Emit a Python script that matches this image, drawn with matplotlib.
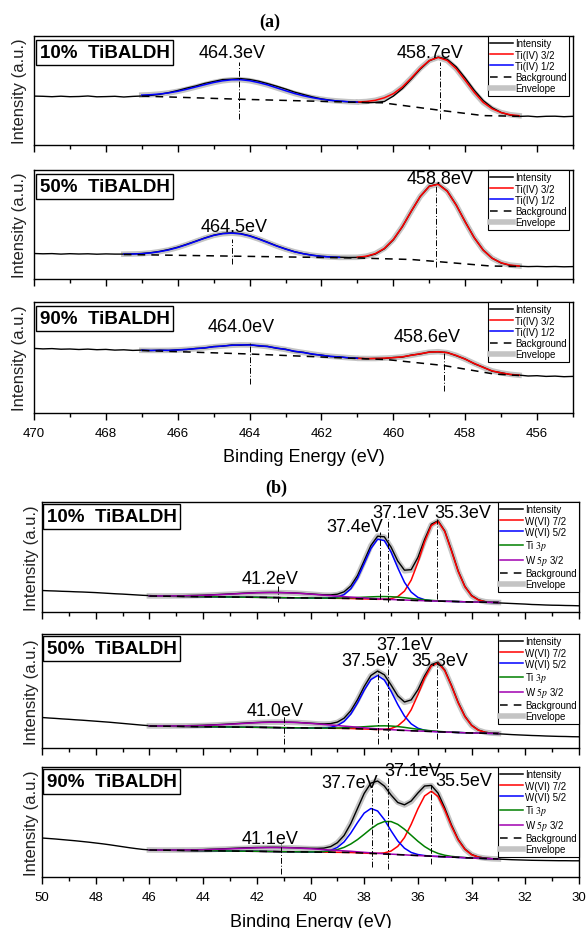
import numpy as np
import matplotlib
matplotlib.use("Agg")
import matplotlib.pyplot as plt
from matplotlib.lines import Line2D
from matplotlib.ticker import MultipleLocator

plt.rcParams["font.family"] = ["Liberation Sans", "DejaVu Sans"]
plt.rcParams["mathtext.fontset"] = "stix"

# ---------------- (a) Ti 2p ----------------
energy_a = np.linspace(470, 455, 61)
half_x_ti10 = np.linspace(467, 461, 25)
half_x_ti50 = np.linspace(467.5, 461.5, 25)
half_x_ti90 = np.linspace(467, 461, 25)
main_x_a = np.linspace(461, 456.5, 19)

int_ti10 = [48.9, 48.7, 48.3, 48.8, 48.3, 48.5, 49.0, 48.2, 48.4, 48.7, 48.0, 48.6, 49.0,
            49.6, 50.7, 52.4, 54.5, 56.9, 59.0, 61.6, 63.5, 65.4, 65.8, 66.4, 65.5, 63.8, 61.4,
            58.8, 56.0, 52.9, 50.5, 48.1, 46.1, 44.8, 43.8, 43.2, 42.8,
            42.4, 42.6, 43.5, 48.9, 56.4, 66.0, 75.9, 84.2, 87.9, 85.7, 78.1, 66.9, 54.8, 44.5,
            37.3, 32.5, 29.8, 28.6, 28.9, 28.2, 28.7, 28.8, 28.3, 28.7]
half_ti10 = [49.9, 50.3, 51.0, 52.1, 53.7, 55.7, 58.0, 60.3, 62.5, 64.2, 65.2, 65.3, 64.3,
             62.4, 60.1, 57.2, 54.3, 51.5, 49.2, 47.3, 45.8, 44.6, 43.9, 43.3, 42.9]
main_ti10 = [43.0, 43.5, 44.7, 47.2, 51.3, 58.0, 67.0, 76.7, 84.5, 87.6, 84.5, 76.2, 64.6,
             52.7, 42.6, 36.2, 32.4, 30.3, 29.3]
bg_x_ti10 = [467.0, 464.3, 461.0, 460.3, 458.7, 457.5, 456.5]
bg_ti10 = [48.9, 45.8, 42.7, 42.2, 34.7, 29.4, 28.7]
peaks_ti10 = [464.3, 458.7]

int_ti50 = [25.5, 25.2, 25.4, 24.9, 25.3, 25.0, 25.2, 24.8, 25.1, 24.9, 24.9, 25.1, 25.5,
            26.3, 27.6, 29.5, 31.8, 34.7, 37.8, 41.0, 43.8, 45.6, 46.2, 45.4, 43.3, 40.2, 36.8,
            33.2, 30.1, 27.3, 25.3, 23.8, 22.7, 22.1, 21.8, 21.5, 21.6,
            22.5, 25.0, 30.2, 39.2, 52.2, 67.8, 82.5, 92.8, 95.0, 88.0, 74.0, 57.2, 41.4, 29.0,
            20.8, 16.0, 13.6, 12.8, 12.4, 12.6, 12.3, 12.5, 12.2, 12.4]
half_ti50 = [24.8, 25.0, 25.3, 26.1, 27.4, 29.1, 31.5, 34.4, 37.6, 40.8, 43.6, 45.3, 45.9,
             45.1, 43.0, 40.0, 36.5, 33.0, 29.9, 27.2, 25.2, 23.7, 22.6, 22.0, 21.6]
main_ti50 = [21.7, 22.8, 25.4, 30.6, 39.5, 52.4, 67.9, 82.6, 92.7, 94.7, 87.7, 73.9, 57.0,
             41.3, 28.9, 20.7, 16.2, 13.9, 13.0]
bg_x_ti50 = [467.5, 461.0, 460.0, 459.5, 458.8, 457.3, 456.5]
bg_ti50 = [24.5, 21.0, 20.0, 19.5, 17.5, 13.0, 12.5]
peaks_ti50 = [464.5, 458.8]

int_ti90 = [64.6, 64.1, 64.4, 63.8, 64.0, 63.5, 63.9, 63.3, 63.6, 62.9, 63.2, 62.6, 62.9,
            62.4, 62.9, 62.5, 63.3, 63.5, 64.6, 65.0, 66.5, 66.8, 68.0, 67.8, 68.4, 67.0, 66.7,
            64.7, 63.8, 61.5, 60.7, 58.7, 57.9, 56.4, 56.2, 55.0, 54.9,
            54.2, 54.6, 54.5, 55.5, 55.9, 57.9, 59.0, 61.0, 61.1, 60.5, 57.3, 54.0, 49.3, 45.8,
            41.8, 40.3, 38.4, 37.9, 37.0, 37.3, 36.6, 36.9, 36.3, 36.6]
half_ti90 = [62.7, 62.6, 62.6, 62.7, 63.0, 63.6, 64.3, 65.2, 66.2, 67.0, 67.7, 68.1, 68.0,
             67.4, 66.4, 65.0, 63.5, 61.8, 60.4, 59.0, 57.7, 56.7, 56.0, 55.3, 54.7]
main_ti90 = [54.6, 54.5, 54.5, 54.9, 55.3, 56.2, 57.7, 59.3, 60.8, 61.3, 60.3, 57.6, 53.8,
             49.6, 45.6, 42.1, 40.1, 38.7, 37.8]
bg_x_ti90 = [467.0, 464.0, 461.0, 460.2, 458.6, 457.2, 456.5]
bg_ti90 = [62.5, 59.0, 54.5, 53.5, 47.5, 39.0, 37.5]
peaks_ti90 = [464.0, 458.6]

# ---------------- (b) W 4f ----------------
energy_b = np.linspace(50, 30, 81)
fit_b = np.linspace(46, 33, 53)

int_w10 = [21.5, 21.2, 21.0, 20.7, 20.5, 20.2, 20.0, 19.7, 19.4, 19.0, 18.6, 18.2, 17.9,
           17.5, 17.1, 16.7, 16.4,
           16.2, 16.1, 16.2, 16.2, 16.3, 16.5, 16.6, 16.8, 17.1, 17.4, 17.7, 18.1, 18.4, 18.8,
           19.1, 19.4, 19.5, 19.6, 19.6, 19.4, 19.2, 18.9, 18.5, 18.1, 17.6, 17.2, 17.1, 17.8,
           20.2, 26.0, 36.4, 51.3, 66.5, 75.8, 75.2, 64.8, 50.9, 41.8, 42.3, 54.5, 72.6, 87.8,
           91.2, 81.0, 61.7, 41.0, 25.6, 16.5, 12.3, 10.4, 9.6, 9.1,
           8.8, 8.5, 8.2, 7.9, 7.5, 7.3, 7.0, 6.8, 6.7, 6.5, 6.4, 6.2]
bg_w10 = [16.0, 15.9, 15.8, 15.75, 15.7, 15.6, 15.5, 15.4, 15.3, 15.25, 15.2, 15.1, 15.0,
          14.9, 14.8, 14.75, 14.7, 14.6, 14.5, 14.4, 14.3, 14.25, 14.2, 14.1, 14.0, 13.9, 13.8,
          13.75, 13.7, 13.6, 13.5, 13.3, 13.1, 12.9, 12.7, 12.5, 12.3, 12.1, 11.9, 11.7, 11.5,
          11.3, 11.1, 10.9, 10.7, 10.6, 10.4, 10.2, 10.0, 9.9, 9.75, 9.6, 9.5]
red_w10 = [0.25, 1.0, 3.3, 9.0, 20.2, 38.0, 58.8, 75.3, 79.7, 69.8, 50.5, 30.2, 15.0, 6.1,
           2.1, 0.6, 0.14]
blue_w10 = [0.3, 1.3, 3.8, 9.7, 20.3, 35.3, 50.6, 60.1, 58.9, 47.8, 32.1, 17.8, 8.2, 3.1,
            1.0, 0.25]
green_w10 = [0.01, 0.02, 0.05, 0.12, 0.25, 0.45, 0.77, 1.2, 1.71, 2.24, 2.69, 2.95, 2.98,
             2.76, 2.34, 1.82, 1.30, 0.85, 0.51, 0.28, 0.14, 0.07, 0.03, 0.01]
purple_w10 = [0.09, 0.14, 0.2, 0.29, 0.41, 0.56, 0.76, 1.0, 1.29, 1.62, 2.0, 2.42, 2.86, 3.3,
              3.73, 4.13, 4.48, 4.74, 4.92, 5.0, 4.97, 4.83, 4.59, 4.28, 3.9, 3.47, 3.03, 2.59,
              2.16, 1.77, 1.42, 1.11, 0.85, 0.64, 0.47, 0.34, 0.24, 0.16, 0.11]
start_w10 = [37.25, 39.25, 40.0, 46.0]   # red, blue, green, purple
peaks_w10 = [41.2, 37.4, 37.1, 35.3]

int_w50 = [30.5, 30.0, 29.6, 29.1, 28.7, 28.2, 27.8, 27.3, 26.8, 26.3, 25.8, 25.2, 24.6,
           24.0, 23.4, 22.8, 22.3,
           22.1, 22.0, 22.1, 22.1, 22.2, 22.4, 22.5, 22.7, 23.0, 23.3, 23.6, 24.0, 24.4, 24.8,
           25.2, 25.5, 25.8, 26.0, 26.0, 25.9, 25.8, 25.6, 25.2, 24.8, 24.4, 24.1, 24.4, 25.9,
           29.8, 37.2, 48.3, 61.5, 72.5, 77.0, 73.2, 63.0, 52.1, 46.0, 48.1, 58.2, 72.1, 83.4,
           85.9, 78.0, 62.6, 45.6, 31.8, 22.8, 18.0, 15.8, 14.8, 14.2,
           13.8, 13.4, 13.1, 12.8, 12.5, 12.3, 12.0, 11.8, 11.6, 11.5, 11.3, 11.2]
bg_w50 = [22.0, 21.9, 21.8, 21.75, 21.7, 21.6, 21.5, 21.4, 21.3, 21.25, 21.2, 21.1, 21.0,
          20.9, 20.8, 20.75, 20.7, 20.6, 20.5, 20.4, 20.3, 20.25, 20.2, 20.1, 20.0, 19.9, 19.8,
          19.75, 19.7, 19.6, 19.5, 19.25, 19.0, 18.75, 18.5, 18.25, 18.0, 17.75, 17.5, 17.25,
          17.0, 16.75, 16.5, 16.25, 16.0, 15.75, 15.5, 15.25, 15.0, 14.9, 14.75, 14.6, 14.5]
red_w50 = [0.46, 1.5, 4.3, 10.4, 21.0, 36.2, 52.9, 65.5, 68.8, 61.3, 46.3, 29.7, 16.1, 7.5,
           2.9, 0.96, 0.27]
blue_w50 = [0.28, 0.95, 2.8, 6.9, 14.4, 25.7, 38.8, 49.7, 54.0, 49.7, 38.8, 25.7, 14.4, 6.9,
            2.8, 0.95, 0.28]
green_w50 = [0.01, 0.03, 0.07, 0.16, 0.33, 0.6, 1.03, 1.6, 2.28, 2.98, 3.58, 3.94, 3.97,
             3.68, 3.12, 2.42, 1.73, 1.13, 0.68, 0.37, 0.19, 0.09, 0.04, 0.01]
purple_w50 = [0.07, 0.11, 0.17, 0.24, 0.34, 0.48, 0.66, 0.89, 1.16, 1.49, 1.87, 2.29, 2.75,
              3.24, 3.73, 4.2, 4.63, 4.99, 5.27, 5.44, 5.5, 5.44, 5.27, 4.99, 4.63, 4.2, 3.73,
              3.24, 2.75, 2.29, 1.87, 1.49, 1.16, 0.89, 0.66, 0.48, 0.34, 0.24, 0.17]
start_w50 = [37.25, 39.5, 40.0, 46.0]
peaks_w50 = [41.0, 37.5, 37.1, 35.3]

int_w90 = [39.0, 38.5, 38.0, 37.4, 36.8, 36.2, 35.5, 34.8, 34.0, 33.2, 32.3, 31.3, 30.3,
           29.3, 28.4, 27.6, 27.1,
           27.0, 26.9, 27.0, 27.0, 27.1, 27.2, 27.3, 27.4, 27.7, 27.9, 28.2, 28.5, 28.8, 29.1,
           29.3, 29.5, 29.6, 29.7, 29.7, 29.6, 29.4, 29.2, 28.9, 28.7, 28.6, 28.9, 30.4, 34.3,
           41.5, 53.4, 68.5, 83.6, 93.9, 96.0, 91.0, 82.0, 74.5, 72.2, 76.0, 84.0, 91.0, 91.6,
           83.9, 69.0, 52.0, 37.6, 28.0, 22.5, 20.0, 18.9, 18.3, 17.9,
           17.6, 17.3, 17.1, 16.9, 16.7, 16.6, 16.5, 16.4, 16.3, 16.3, 16.2, 16.2]
bg_w90 = [27.0, 26.9, 26.8, 26.75, 26.7, 26.6, 26.5, 26.4, 26.3, 26.25, 26.2, 26.1, 26.0,
          25.9, 25.8, 25.75, 25.7, 25.6, 25.5, 25.4, 25.3, 25.25, 25.2, 25.1, 25.0, 24.9, 24.8,
          24.75, 24.7, 24.6, 24.5, 24.2, 23.9, 23.6, 23.3, 22.95, 22.65, 22.35, 22.05, 21.75,
          21.45, 21.15, 20.8, 20.5, 20.2, 19.9, 19.6, 19.3, 19.0, 18.75, 18.5, 18.25, 18.0]
red_w90 = [0.33, 1.14, 3.3, 8.3, 17.4, 30.9, 46.7, 59.9, 65.0, 59.9, 46.7, 30.9, 17.4, 8.3,
           3.3, 1.14, 0.33]
blue_w90 = [0.18, 0.63, 1.9, 4.9, 10.5, 19.4, 30.2, 40.0, 44.9, 42.7, 34.5, 23.6, 13.7, 6.75,
            2.8, 1.0, 0.3]
green_w90 = [0.1, 0.25, 0.6, 1.35, 2.7, 5.0, 8.5, 13.2, 18.8, 24.6, 29.5, 32.5, 32.8, 30.3,
             25.7, 20.0, 14.3, 9.3, 5.6, 3.1, 1.55, 0.73, 0.31, 0.12]
purple_w90 = [0.06, 0.09, 0.14, 0.2, 0.29, 0.4, 0.54, 0.72, 0.93, 1.19, 1.48, 1.8, 2.14,
              2.5, 2.85, 3.18, 3.48, 3.72, 3.89, 3.98, 3.99, 3.92, 3.76, 3.53, 3.24, 2.92,
              2.57, 2.21, 1.86, 1.54, 1.24, 0.98, 0.76, 0.57, 0.42, 0.31, 0.22, 0.15, 0.1]
start_w90 = [37.5, 39.75, 40.0, 46.0]
peaks_w90 = [41.1, 37.7, 37.1, 35.5]

ENV = "#c4c4c4"
BG_DASH = (0, (5, 4))
W, H = 586, 929

fig = plt.figure(figsize=(W / 100, H / 100), dpi=100)


def px_axes(left, top, right, bottom):
    return fig.add_axes([left / W, 1 - bottom / H, (right - left) / W, (bottom - top) / H])


def style(ax, xlim, height, sample, labels_on, box_pos):
    ax.set_xlim(*xlim)
    ax.set_ylim(0, height)
    ax.set_yticks([])
    ax.xaxis.set_major_locator(MultipleLocator(2))
    ax.xaxis.set_minor_locator(MultipleLocator(1))
    ax.tick_params(axis="x", which="major", direction="out", length=5, width=1,
                   labelsize=9.5, pad=5, labelbottom=labels_on)
    ax.tick_params(axis="x", which="minor", direction="out", length=3, width=1)
    for s in ax.spines.values():
        s.set_linewidth(1)
    ax.text(box_pos[0], box_pos[1], sample, transform=ax.transAxes, fontsize=13.5,
            fontweight="bold", ha="left", va="top",
            bbox=dict(boxstyle="square,pad=0.2", fc="white", ec="k", lw=1))


def mark_peaks(ax, peaks, spans, label_pos):
    for p, (lo, hi), (tx, ty) in zip(peaks, spans, label_pos):
        ax.plot([p, p], [lo, hi], color="k", lw=0.7, ls=(0, (6, 2, 1, 2)))
        ax.text(tx, ty, f"{p:.1f}eV", fontsize=13, ha="center", va="center")


def add_legend(ax, labels, colors, anchor):
    handles = [Line2D([], [], color="k", lw=1.1)]
    handles += [Line2D([], [], color=c, lw=1.1) for c in colors]
    handles += [Line2D([], [], color="k", lw=1.1, ls=BG_DASH),
                Line2D([], [], color=ENV, lw=4)]
    leg = ax.legend(handles, ["Intensity"] + labels + ["Background", "Envelope"],
                    loc="upper right", bbox_to_anchor=anchor, borderaxespad=0,
                    fontsize=7, frameon=True, fancybox=False, edgecolor="k",
                    framealpha=1, borderpad=0.25, labelspacing=0.12,
                    handlelength=2.4, handletextpad=0.15)
    leg.get_frame().set_linewidth(0.8)


# ---- part (a) ----
ti_panels = [
    ((37, 146), "10%  TiBALDH", int_ti10, half_x_ti10, half_ti10, main_ti10,
     bg_x_ti10, bg_ti10, peaks_ti10, [(26, 83), (26, 83)], [(464.49, 93), (458.98, 93)]),
    ((171, 280), "50%  TiBALDH", int_ti50, half_x_ti50, half_ti50, main_ti50,
     bg_x_ti50, bg_ti50, peaks_ti50, [(15, 40), (12, 94)], [(464.42, 53), (458.7, 100)]),
    ((303, 414), "90%  TiBALDH", int_ti90, half_x_ti90, half_ti90, main_ti90,
     bg_x_ti90, bg_ti90, peaks_ti90, [(29, 70), (22, 62)], [(464.24, 87), (459.06, 76)]),
]
for i, (tb, sample, inten, hx, hy, my, bx, by, peaks, spans, lpos) in enumerate(ti_panels):
    ax = px_axes(34, tb[0], 573, tb[1])
    height = tb[1] - tb[0]
    ax.plot(np.concatenate([hx, main_x_a]), np.concatenate([hy, my]), color=ENV, lw=4)
    ax.plot(energy_a, inten, color="k", lw=1)
    ax.plot(main_x_a, my, color="#ff0000", lw=1.1)
    ax.plot(hx, hy, color="#0000ff", lw=1.1)
    ax.plot(bx, by, color="k", lw=1.1, ls=BG_DASH)
    mark_peaks(ax, peaks, spans, lpos)
    style(ax, (470, 455), height, sample, i == 2,
          (0.0104, 1 - 8.0 / height))
    ax.set_ylabel("Intensity (a.u.)", fontsize=12, labelpad=5, color="#222222")
    add_legend(ax, ["Ti(IV) 3/2", "Ti(IV) 1/2"], ["#ff0000", "#0000ff"],
               (1 - 4 / 539, 1.0))
    if i == 2:
        ax.set_xlabel("Binding Energy (eV)", fontsize=13, labelpad=6.5)


# ---- part (b) ----
def place(start, net):
    i0 = int(round((fit_b[0] - start) / 0.25))
    full = np.zeros_like(fit_b)
    full[i0:i0 + len(net)] = net
    return full


w_colors = ["#ff0000", "#0000ff", "#008000", "#a000b0"]
w_panels = [
    ((503, 613), "10%  TiBALDH", int_w10, bg_w10, [red_w10, blue_w10, green_w10, purple_w10],
     start_w10, peaks_w10, [(10, 26), (13, 80), (10, 93), (13, 93)],
     [(41.51, 33), (38.34, 86), (36.63, 100), (34.32, 100)]),
    ((635, 749), "50%  TiBALDH", int_w50, bg_w50, [red_w50, blue_w50, green_w50, purple_w50],
     start_w50, peaks_w50, [(4, 32), (4, 77), (9, 94), (9, 85)],
     [(41.32, 37), (37.78, 87), (36.48, 103), (35.2, 88)]),
    ((768, 878), "90%  TiBALDH", int_w90, bg_w90, [red_w90, blue_w90, green_w90, purple_w90],
     start_w90, peaks_w90, [(3, 33), (10, 88), (8, 103), (13, 92)],
     [(41.51, 38), (38.53, 94), (36.18, 106), (34.3, 97)]),
]
for i, (tb, sample, inten, bg, nets, starts, peaks, spans, lpos) in enumerate(w_panels):
    ax = px_axes(42, tb[0], 579, tb[1])
    height = tb[1] - tb[0]
    bg = np.array(bg)
    comps = [place(s, n) for s, n in zip(starts, nets)]
    envelope = bg + np.sum(comps, axis=0)
    ax.plot(fit_b, envelope, color=ENV, lw=4)
    ax.plot(energy_b, inten, color="k", lw=1)
    for comp, c in zip(comps, w_colors):
        ax.plot(fit_b, bg + comp, color=c, lw=1.1)
    ax.plot(fit_b, bg, color="k", lw=1.1, ls=BG_DASH)
    mark_peaks(ax, peaks, spans, lpos)
    style(ax, (50, 30), height, sample, i == 2, (0.0086, 1 - 5.9 / height))
    ax.set_ylabel("Intensity (a.u.)", fontsize=12, labelpad=2, color="#222222")
    add_legend(ax, ["W(VI) 7/2", "W(VI) 5/2", "Ti $3p$", "W $5p$ 3/2"], w_colors, (1.0, 1.0))
    if i == 2:
        ax.set_xlabel("Binding Energy (eV)", fontsize=13, labelpad=7)

serif = ["Liberation Serif", "DejaVu Serif"]
fig.text(270 / W, 1 - 22 / H, "(a)", ha="center", va="center", family=serif,
         fontweight="bold", fontsize=13)
fig.text(276 / W, 1 - 488 / H, "(b)", ha="center", va="center", family=serif,
         fontweight="bold", fontsize=13)

fig.savefig("out.png", dpi=100)
